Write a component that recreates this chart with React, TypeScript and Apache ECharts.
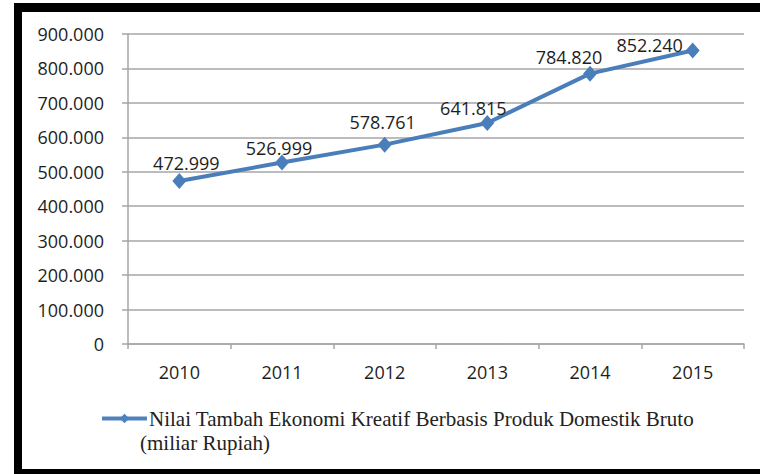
import React, { useEffect, useRef } from "react";
import * as echarts from "echarts";

const categories = ["2010", "2011", "2012", "2013", "2014", "2015"];
const values = [472999, 526999, 578761, 641815, 784820, 852240];
const yTicks = { min: 0, max: 900000, interval: 100000 };
const seriesName = "Nilai Tambah Ekonomi Kreatif Berbasis Produk Domestik Bruto";
const legendSecondLine = "(miliar Rupiah)";
// manual label placement (dx, dy from the marker centre), as in the reference
const labelOffsets: [number, number][] = [
  [7, -18],
  [-3, -14],
  [-2, -23],
  [-14, -15],
  [-21, -17],
  [-43, -5],
];

const fmt = (v: number) =>
  String(Math.round(v)).replace(/\B(?=(\d{3})+(?!\d))/g, ".");

const SANS = "'Open Sans', 'Noto Sans', sans-serif";
const SERIF = "'Liberation Serif', 'DejaVu Serif', serif";
const BLUE = "#4A7EBB";
const GRID = "#a6a6a6";
const TEXT = "#1e1e1e";

export default function App() {
  const ref = useRef<HTMLDivElement>(null);
  useEffect(() => {
    if (!ref.current) return;
    const chart = echarts.init(ref.current, null, { renderer: "svg" });
    chart.setOption({
      animation: false,
      backgroundColor: "#ffffff",
      grid: { left: 128, right: 16, top: 34, bottom: 130, containLabel: false },
      xAxis: {
        type: "category",
        data: categories,
        boundaryGap: true,
        axisLine: { show: true, lineStyle: { color: GRID, width: 1.5 } },
        axisTick: { show: true, length: 5, interval: 0, lineStyle: { color: GRID, width: 1.5 } },
        axisLabel: { color: TEXT, fontFamily: SANS, fontSize: 18, margin: 19 },
        splitLine: { show: false },
      },
      yAxis: {
        type: "value",
        min: yTicks.min,
        max: yTicks.max,
        interval: yTicks.interval,
        axisLine: { show: true, lineStyle: { color: GRID, width: 1.5 } },
        axisTick: { show: true, length: 6, lineStyle: { color: GRID, width: 1.5 } },
        axisLabel: {
          color: TEXT,
          fontFamily: SANS,
          fontSize: 18,
          margin: 24,
          formatter: (v: number) => fmt(v),
        },
        splitLine: { show: true, lineStyle: { color: GRID, width: 1.5 } },
      },
      legend: {
        show: true,
        left: 95,
        top: 403,
        itemWidth: 45,
        itemHeight: 12,
        itemGap: 0,
        lineStyle: { width: 4, color: "#4F81BD" },
        itemStyle: { color: "#4F81BD" },
        textStyle: { fontFamily: SERIF, fontSize: 21, color: "#222", padding: [0, 0, 0, -3] },
        data: [seriesName],
      },
      series: [
        {
          name: seriesName,
          type: "line",
          data: values.map((v, i) => ({
            value: v,
            label: { offset: labelOffsets[i] },
          })),
          symbol: "diamond",
          symbolSize: [14, 16],
          lineStyle: { color: BLUE, width: 4 },
          itemStyle: { color: BLUE },
          label: {
            show: true,
            position: "inside",
            color: TEXT,
            fontFamily: SANS,
            fontSize: 18,
            formatter: (p: any) => fmt(p.value),
          },
        },
      ],
      graphic: [
        {
          type: "text",
          left: 140,
          top: 432,
          style: {
            text: legendSecondLine,
            fontFamily: SERIF,
            fontSize: 21,
            fill: "#222",
          },
        },
        { type: "rect", shape: { x: 14, y: 3, width: 746, height: 9 }, style: { fill: "#000" } },
        { type: "rect", shape: { x: 14, y: 3, width: 8, height: 471 }, style: { fill: "#000" } },
        { type: "rect", shape: { x: 14, y: 469, width: 746, height: 5 }, style: { fill: "#000" } },
      ],
    });
    return () => chart.dispose();
  }, []);
  return (
    <div style={{ position: "fixed", left: 0, top: 0, width: 760, height: 474 }}>
      <div ref={ref} style={{ width: 760, height: 474 }} />
    </div>
  );
}
